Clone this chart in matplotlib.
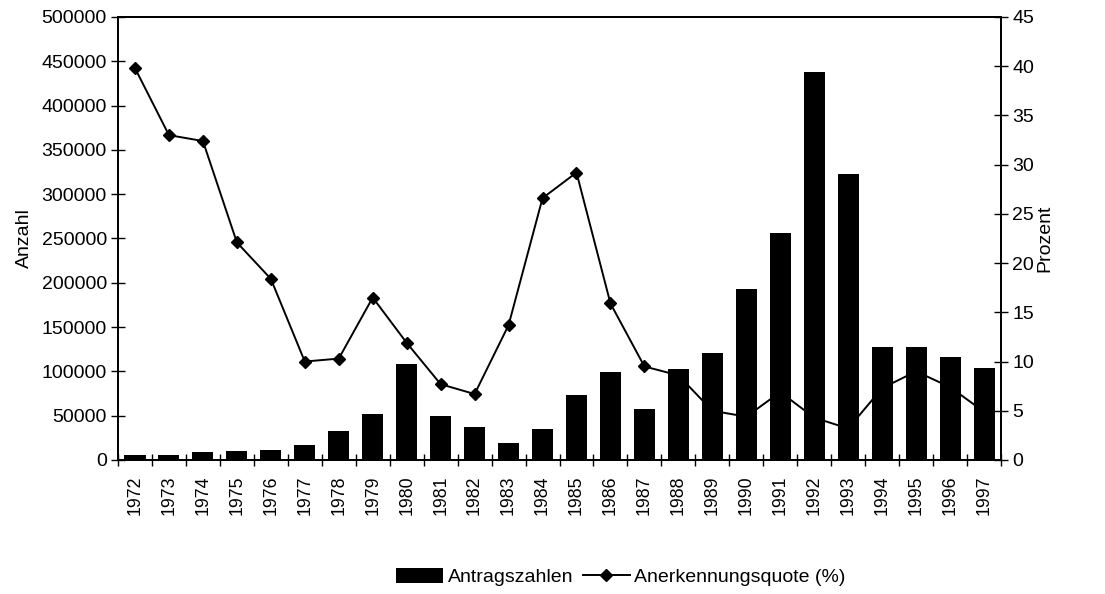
import numpy as np
import matplotlib
matplotlib.use("Agg")
import matplotlib.pyplot as plt
from matplotlib.ticker import FixedLocator

plt.rcParams["font.family"] = ["Liberation Sans", "DejaVu Sans"]

years = [str(y) for y in range(1972, 1998)]
antraege = [5289, 5595, 9424, 9627, 11123, 16410, 33136, 51493, 107818, 49391,
            37423, 19737, 35278, 73832, 99650, 57379, 103076, 121318, 193063,
            256112, 438191, 322599, 127210, 127937, 116367, 104353]
quote = [39.8, 33.0, 32.4, 22.1, 18.4, 10.0, 10.3, 16.5, 11.9, 7.7,
         6.7, 13.7, 26.6, 29.2, 15.9, 9.5, 8.6, 5.0, 4.4, 6.9,
         4.3, 3.2, 7.3, 9.0, 7.4, 4.9]

FS = 14
fig = plt.figure(figsize=(11.05, 5.94), dpi=100)
ax = fig.add_axes([0.1068, 0.2256, 0.7991, 0.7458])
ax2 = ax.twinx()

x = np.arange(len(years))
ax2.plot(x, quote, color="black", lw=1.4, marker="D", markersize=6,
         label="Anerkennungsquote (%)")
ax.bar(x, antraege, width=0.62, color="black", label="Antragszahlen")

# bars drawn over the line
ax.set_zorder(ax2.get_zorder() + 1)
ax.patch.set_visible(False)

ax.set_xlim(-0.5, len(years) - 0.5)
ax.set_ylim(0, 500000)
ax2.set_ylim(0, 45)
ax.set_yticks(np.arange(0, 500001, 50000))
ax2.set_yticks(np.arange(0, 46, 5))

ax.set_xticks(x)
ax.set_xticklabels(years, rotation=90, fontsize=12.8)
ax.xaxis.set_minor_locator(FixedLocator(np.arange(-0.5, len(years), 1.0)))
ax.tick_params(axis="x", which="major", length=0, pad=11)
ax.tick_params(axis="x", which="minor", direction="inout", length=9, width=1)
ax.tick_params(axis="y", labelsize=FS, direction="inout", length=10, width=1, pad=3)
ax2.tick_params(axis="y", labelsize=FS, direction="inout", length=10, width=1, pad=3)

for a in (ax, ax2):
    for s in a.spines.values():
        s.set_linewidth(1.3)
        s.set_color("black")

ax.set_ylabel("Anzahl", fontsize=FS, labelpad=6)
ax2.set_ylabel("Prozent", fontsize=FS, labelpad=2)

h1, l1 = ax.get_legend_handles_labels()
h2, l2 = ax2.get_legend_handles_labels()
fig.legend(h1 + h2, l1 + l2, loc="center", bbox_to_anchor=(0.562, 0.028),
           ncol=2, frameon=False, fontsize=FS, handlelength=2.4,
           handletextpad=0.25, columnspacing=0.5, handleheight=0.75,
           borderpad=0.1)

fig.savefig("out.png", dpi=100)
